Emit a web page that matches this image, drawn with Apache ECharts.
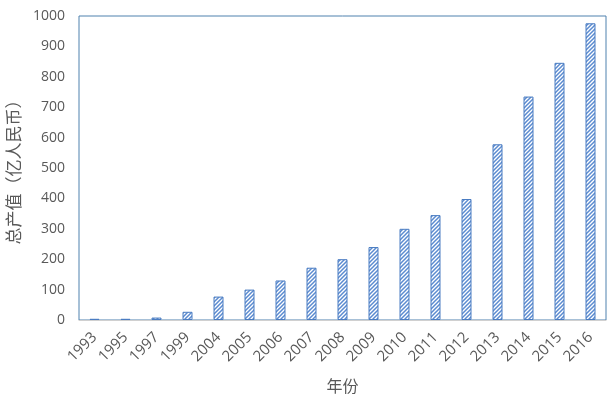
<!DOCTYPE html>
<html>
<head>
<meta charset="utf-8">
<script src="https://cdn.jsdelivr.net/npm/echarts@6/dist/echarts.min.js"></script>
<style>
  html, body { margin: 0; padding: 0; background: #fff; }
  #chart { width: 610px; height: 400px; }
</style>
</head>
<body>
<div id="chart"></div>
<script>
"use strict";
// 数据
var years = ["1993", "1995", "1997", "1999", "2004", "2005", "2006", "2007", "2008",
  "2009", "2010", "2011", "2012", "2013", "2014", "2015", "2016"];
var totals = [4, 4, 8, 27, 77, 100, 130, 172, 200, 240, 300, 345, 398, 578, 735, 846, 976];
var yTicks = [0, 1000, 100]; // min, max, interval

/**斜线填充**/
function hatch() {
  var c = document.createElement("canvas");
  c.width = 4; c.height = 4;
  var ctx = c.getContext("2d");
  ctx.fillStyle = "#fff";
  ctx.fillRect(0, 0, 4, 4);
  ctx.strokeStyle = "#5B8BD0";
  ctx.lineWidth = 1.5;
  ctx.beginPath();
  ctx.moveTo(-1, 5); ctx.lineTo(5, -1);
  ctx.moveTo(-1, 1); ctx.lineTo(1, -1);
  ctx.moveTo(3, 5); ctx.lineTo(5, 3);
  ctx.stroke();
  return c;
}

var chart = echarts.init(document.getElementById("chart"));
chart.setOption({
  animation: false,
  textStyle: {fontFamily: "'Noto Sans CJK SC', 'Open Sans', sans-serif"},
  grid: {left: 79, top: 16, right: 4, bottom: 80, show: true, borderColor: "#4F81AE", borderWidth: 1,
    containLabel: false, outerBoundsMode: "none"},
  xAxis: {
    type: "category",
    data: years,
    name: "年份",
    nameLocation: "middle",
    nameGap: 58,
    nameTextStyle: {color: "#595959", fontSize: 16},
    axisLine: {lineStyle: {color: "#D0D0D0"}},
    axisTick: {show: false},
    axisLabel: {rotate: 45, color: "#595959", fontSize: 15, fontFamily: "'Open Sans', sans-serif", margin: 15}
  },
  yAxis: {
    type: "value",
    min: yTicks[0],
    max: yTicks[1],
    interval: yTicks[2],
    name: "总产值（亿人民币）",
    nameLocation: "middle",
    nameRotate: 90,
    nameGap: 56,
    nameTextStyle: {color: "#595959", fontSize: 17},
    axisLine: {show: false},
    axisTick: {show: false},
    splitLine: {show: false},
    axisLabel: {color: "#595959", fontSize: 14, fontFamily: "'Open Sans', sans-serif", margin: 14,
      formatter: function (v) { return String(v); }}
  },
  series: [{
    type: "bar",
    data: totals,
    barWidth: 10,
    itemStyle: {color: {image: hatch(), repeat: "repeat"}, borderColor: "#4A7CC2", borderWidth: 1}
  }]
});
</script>
</body>
</html>
